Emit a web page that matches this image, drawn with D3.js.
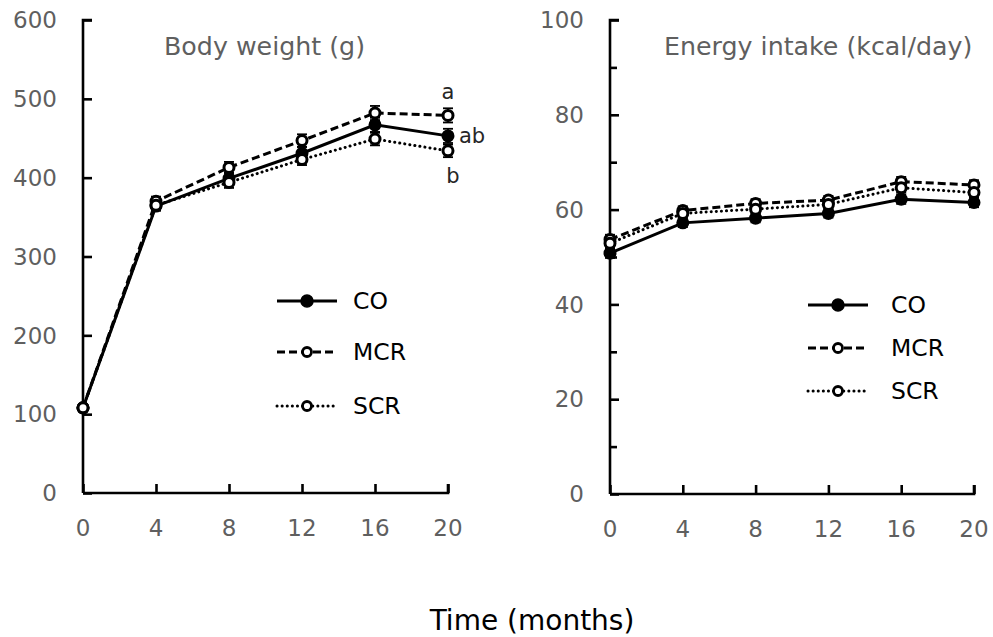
<!DOCTYPE html>
<html><head><meta charset="utf-8">
<script src="https://cdn.jsdelivr.net/npm/d3@7"></script>
<style>body{margin:0;background:#fff}svg{display:block}text{font-family:"DejaVu Sans",Verdana,sans-serif}</style>
</head><body><svg id="c" width="993" height="637"></svg>
<script>
const months = [0, 4, 8, 12, 16, 20];
const groups = ["CO", "MCR", "SCR"];
// Body weight (g)
const bwCO  = [108, 364, 399, 431, 467, 453];
const bwMCR = [108, 370, 413, 447, 482, 479];
const bwSCR = [108, 365, 394, 423, 449, 434];
const bwErrCO  = [3, 6, 7, 8, 9, 9];
const bwErrMCR = [3, 6, 7, 8, 9, 9];
const bwErrSCR = [3, 6, 7, 7, 8, 8];
// Energy intake (kcal/day)
const eiCO  = [50.8, 57.2, 58.2, 59.2, 62.2, 61.5];
const eiMCR = [53.7, 59.8, 61.3, 62.0, 65.9, 65.2];
const eiSCR = [52.9, 59.2, 60.1, 61.1, 64.6, 63.6];
const eiErrCO  = [1.0, 0.9, 0.9, 0.9, 1.0, 1.0];
const eiErrMCR = [1.0, 0.9, 0.9, 0.9, 1.0, 1.0];
const eiErrSCR = [1.0, 0.9, 0.9, 0.9, 1.0, 1.0];
const bwTicks = [0, 100, 200, 300, 400, 500, 600];
const eiTicks = [0, 20, 40, 60, 80, 100];
const eiMinor = [10, 30, 50, 70, 90];
const xTicks = [0, 4, 8, 12, 16, 20];
const sigLetters = ["ab", "a", "b"]; // CO, MCR, SCR at 20 months

const styles = {
  CO:  {dash: null, fill: "#000"},
  MCR: {dash: "8,4", fill: "#fff"},
  SCR: {dash: "0.1,5", cap: "round", fill: "#fff"}
};

const svg = d3.select("#c");

function panel(opt) {
  const x = d3.scaleLinear().domain([0, 20]).range([opt.x0, opt.x1]);
  const y = d3.scaleLinear().domain([0, opt.ymax]).range([opt.y0, opt.y1]);
  const g = svg.append("g");
  // axes
  const ya = g.append("g").attr("transform", `translate(${opt.x0},0)`)
    .call(d3.axisRight(y).tickValues(opt.ticks).tickSize(9).tickFormat(""));
  ya.select(".domain").attr("d", `M${9},${opt.y1}H0V${opt.y0}`);
  if (opt.minor) {
    g.append("g").attr("transform", `translate(${opt.x0},0)`)
      .call(d3.axisRight(y).tickValues(opt.minor).tickSize(7).tickFormat(""))
      .select(".domain").remove();
  }
  const xa = g.append("g").attr("transform", `translate(0,${opt.y0})`)
    .call(d3.axisTop(x).tickValues(xTicks).tickSize(9).tickFormat(""));
  xa.select(".domain").attr("d", `M${opt.x0},0H${opt.x1}V-9`);
  g.selectAll(".domain, .tick line").attr("stroke", "#000").attr("stroke-width", 2.6);
  // tick labels
  g.selectAll(".ylab").data(opt.ticks).enter().append("text")
    .attr("x", opt.x0 - 26).attr("y", d => y(d)).attr("dy", "0.36em")
    .attr("text-anchor", "end").attr("font-size", 23).attr("fill", "#5f5f5f").text(d => d);
  g.selectAll(".xlab").data(xTicks).enter().append("text")
    .attr("x", d => x(d)).attr("y", opt.y0 + 35).attr("dy", "0.36em")
    .attr("text-anchor", "middle").attr("font-size", 23).attr("fill", "#5f5f5f").text(d => d);
  // title
  g.append("text").attr("x", opt.tx).attr("y", 55).attr("font-size", 25.3)
    .attr("fill", "#5f5f5f").text(opt.title);
  // series
  const line = d3.line().x((d, i) => x(months[i])).y(d => y(d));
  groups.forEach((k, gi) => {
    const vals = opt.data[gi], st = styles[k];
    g.append("path").datum(vals).attr("d", line).attr("fill", "none")
      .attr("stroke", "#000").attr("stroke-width", 3)
      .attr("stroke-dasharray", st.dash).attr("stroke-linecap", st.cap || "butt");
  });
  groups.forEach((k, gi) => {
    const vals = opt.data[gi], errs = opt.err[gi], st = styles[k];
    const eb = g.append("g").attr("stroke", "#000").attr("stroke-width", 1.8);
    vals.forEach((v, i) => {
      const cx = x(months[i]);
      eb.append("line").attr("x1", cx).attr("x2", cx).attr("y1", y(v - errs[i])).attr("y2", y(v + errs[i]));
      [v - errs[i], v + errs[i]].forEach(e => eb.append("line")
        .attr("x1", cx - 5).attr("x2", cx + 5).attr("y1", y(e)).attr("y2", y(e)));
    });
    g.selectAll(null).data(vals).enter().append("circle")
      .attr("cx", (d, i) => x(months[i])).attr("cy", d => y(d)).attr("r", 5)
      .attr("fill", st.fill).attr("stroke", "#000").attr("stroke-width", 3);
  });
  // legend
  opt.legend.forEach((ly, gi) => {
    const k = groups[gi], st = styles[k];
    const lx0 = opt.lx, lx1 = opt.lx + 60, mx = (lx0 + lx1) / 2;
    g.append("line").attr("x1", lx0).attr("x2", lx1).attr("y1", ly).attr("y2", ly)
      .attr("stroke", "#000").attr("stroke-width", 3)
      .attr("stroke-dasharray", st.dash).attr("stroke-linecap", st.cap || "butt");
    g.append("circle").attr("cx", mx).attr("cy", ly).attr("r", k === "CO" ? 6 : 4.5)
      .attr("fill", st.fill).attr("stroke", "#000").attr("stroke-width", k === "CO" ? 1.5 : 2.8);
    g.append("text").attr("x", opt.lx + 76 + (opt.ltxt || 0)).attr("y", ly).attr("dy", "0.36em")
      .attr("font-size", 23.5).attr("fill", "#000").text(k);
  });
  return {x, y, g};
}

const L = panel({x0: 83, x1: 448, y0: 493, y1: 20, ymax: 600, ticks: bwTicks,
  title: "Body weight (g)", tx: 164, data: [bwCO, bwMCR, bwSCR], err: [bwErrCO, bwErrMCR, bwErrSCR],
  lx: 277, legend: [301, 352, 406]});
const R = panel({x0: 610, x1: 974, y0: 494, y1: 20, ymax: 100, ticks: eiTicks, minor: eiMinor,
  title: "Energy intake (kcal/day)", tx: 664, data: [eiCO, eiMCR, eiSCR], err: [eiErrCO, eiErrMCR, eiErrSCR],
  lx: 808, legend: [305, 348, 391], ltxt: 7});

// significance letters at 20 months
const last = months.length - 1;
const sx = L.x(months[last]);
L.g.append("text").attr("x", sx + 11).attr("y", L.y(bwCO[last])).attr("dy", "0.36em")
  .attr("font-size", 21).attr("fill", "#262626").text(sigLetters[0]);
L.g.append("text").attr("x", sx).attr("y", L.y(bwMCR[last]) - 16).attr("text-anchor", "middle")
  .attr("font-size", 21).attr("fill", "#262626").text(sigLetters[1]);
L.g.append("text").attr("x", sx + 5).attr("y", L.y(bwSCR[last]) + 32).attr("text-anchor", "middle")
  .attr("font-size", 21).attr("fill", "#262626").text(sigLetters[2]);

svg.append("text").attr("x", 532).attr("y", 630).attr("text-anchor", "middle")
  .attr("font-size", 28).attr("fill", "#000").text("Time (months)");
</script></body></html>
